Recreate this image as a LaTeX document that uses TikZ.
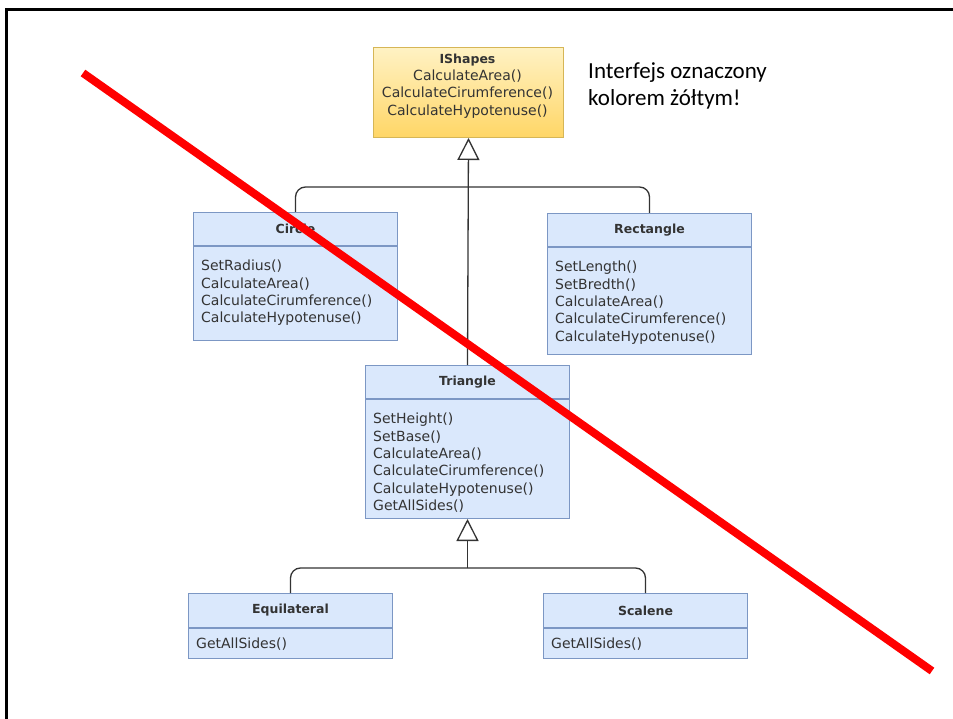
\documentclass[tikz,border=0pt]{standalone}
\usepackage{fontspec}
\setmainfont{DejaVu Sans}
\newfontfamily\calib{Carlito}
\usetikzlibrary{arrows.meta}
\definecolor{umlfill}{HTML}{DAE8FC}
\definecolor{umldraw}{HTML}{7C97C4}
\definecolor{ytop}{HTML}{FFF2C4}
\definecolor{ybot}{HTML}{FFD666}
\definecolor{ydraw}{HTML}{D6B656}
\definecolor{txt}{HTML}{333333}
\definecolor{conn}{HTML}{333333}
\begin{document}
\begin{tikzpicture}[x=1pt,y=-1pt,
 hdr/.style={draw=umldraw, fill=umlfill, line width=1pt, minimum width=204pt, minimum height=33pt, inner sep=0pt, font=\fontsize{12.5}{15}\selectfont\bfseries, text=txt, anchor=north west},
 bdy/.style={draw=umldraw, fill=umlfill, line width=1pt, minimum width=204pt, inner sep=0pt, anchor=north},
 mtxt/.style={font=\fontsize{14}{17.3}\selectfont, text=txt, align=left, inner sep=0pt, anchor=north west},
 edge/.style={draw=conn, line width=1.3pt, rounded corners=10pt},
 inh/.style={draw=conn, line width=1.3pt, -{Triangle[open, length=22pt, width=22pt, line width=1.3pt]}},
]
\useasboundingbox (0,0) rectangle (953,719);
\fill[white] (0,0) rectangle (953,719);
\draw[line width=2.6pt] (6.2,719) -- (6.2,9.7) -- (953,9.7);

% interface
\node[draw=ydraw, top color=ytop, bottom color=ybot, line width=1pt, minimum width=190pt, minimum height=90pt, anchor=north west, inner sep=0pt] (ish) at (373,47) {};
\node[font=\fontsize{14}{17.3}\selectfont, text=txt, align=center, inner sep=0pt, anchor=center] (isht) at (467.5,86) {{\fontsize{12.5}{17.3}\selectfont\bfseries IShapes}\\CalculateArea()\\CalculateCirumference()\\CalculateHypotenuse()};
\node[font=\calib\fontsize{23}{27}\selectfont, align=left, anchor=north west, inner sep=0pt] (note) at (588,62) {Interfejs oznaczony\\kolorem żółtym!};

% Circle
\node[hdr] (cir) at (193,212) {Circle};
\node[bdy, minimum height=94pt] (cirb) at (cir.south) {};
\node[mtxt] (cirt) at ([xshift=8pt, yshift=-14pt]cirb.north west) {SetRadius()\\CalculateArea()\\CalculateCirumference()\\CalculateHypotenuse()};

% Rectangle
\node[hdr] (rec) at (547,213) {Rectangle};
\node[bdy, minimum height=107pt] (recb) at (rec.south) {};
\node[mtxt] (rect) at ([xshift=8pt, yshift=-14pt]recb.north west) {SetLength()\\SetBredth()\\CalculateArea()\\CalculateCirumference()\\CalculateHypotenuse()};

% Triangle
\node[hdr] (tri) at (365,365) {Triangle};
\node[bdy, minimum height=119pt] (trib) at (tri.south) {};
\node[mtxt] (trit) at ([xshift=8pt, yshift=-14pt]trib.north west) {SetHeight()\\SetBase()\\CalculateArea()\\CalculateCirumference()\\CalculateHypotenuse()\\GetAllSides()};

% Equilateral
\node[hdr, minimum height=34pt] (eq) at (188,593) {Equilateral};
\node[bdy, minimum height=30pt] (eqb) at (eq.south) {};
\node[mtxt] (eqt) at ([xshift=8pt, yshift=-10pt]eqb.north west) {GetAllSides()};

% Scalene
\node[hdr, minimum height=34pt] (sc) at (543,593) {Scalene};
\node[bdy, minimum height=30pt] (scb) at (sc.south) {};
\node[mtxt] (sct) at ([xshift=8pt, yshift=-10pt]scb.north west) {GetAllSides()};

% connectors
\coordinate (y1) at (0,187);
\coordinate (j1) at (tri.north |- y1);
\draw[edge] (cir.north) |- (j1) -| (rec.north);
\draw[inh] (tri.north) -- (ish.south);

\coordinate (y2) at (0,568);
\coordinate (j2) at (trib.south |- y2);
\draw[edge] (eq.north) |- (j2) -| (sc.north);
\draw[inh] (j2) -- (trib.south);

% red strike line
\coordinate (r1) at (83,73);
\coordinate (r2) at (932,671);
\draw[red, line width=8pt] (r1) -- (r2);
\end{tikzpicture}
\end{document}
